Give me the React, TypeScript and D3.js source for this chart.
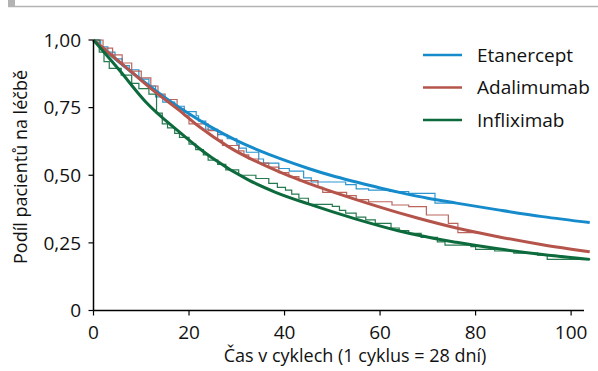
import * as d3 from "d3";

// series
const drugs = ["Etanercept", "Adalimumab", "Infliximab"];
const colors = ["#168bcb", "#b4544b", "#0d6a3c"];

// Kaplan-Meier steps (cycles, proportion on treatment)
const etaKmT = [0, 1.5, 3, 4.5, 6, 7.5, 9.5, 11.6, 13, 14.5, 17, 19, 21.5, 22, 23.5, 26, 28, 30, 30.5, 32, 34.6, 35.6, 38.8, 41, 44, 45.6, 52.8, 55, 57.6, 62, 66, 71.5, 76];
const etaKmS = [1, 0.975, 0.955, 0.93, 0.905, 0.89, 0.855, 0.83, 0.79, 0.77, 0.755, 0.735, 0.72, 0.7, 0.67, 0.65, 0.635, 0.615, 0.6, 0.585, 0.56, 0.545, 0.525, 0.515, 0.49, 0.475, 0.465, 0.45, 0.445, 0.44, 0.433, 0.397, 0.397];

const adaKmT = [0, 2, 4, 6, 8, 10, 12, 13.5, 15, 17.5, 19, 20, 24, 26, 27, 30.4, 31.5, 32.5, 34.5, 36.7, 38.8, 40.9, 43, 47, 48, 53, 55, 57.6, 62.5, 66, 69.7, 74.3, 76.3, 81];
const adaKmS = [1, 0.97, 0.945, 0.915, 0.885, 0.86, 0.83, 0.8, 0.78, 0.745, 0.72, 0.69, 0.665, 0.63, 0.61, 0.59, 0.575, 0.56, 0.545, 0.53, 0.51, 0.495, 0.48, 0.455, 0.437, 0.425, 0.41, 0.402, 0.39, 0.384, 0.353, 0.322, 0.288, 0.288];

const infKmT = [0, 1.2, 2.2, 3.3, 5.8, 8, 9.5, 11.6, 13.2, 14.4, 15.5, 17, 18, 20, 21.4, 23, 24, 26, 27.7, 30.4, 34, 36.7, 38.5, 40.2, 41.5, 43, 45, 50, 51.5, 52.8, 55, 57, 59, 62.3, 64, 66, 68.6, 72, 73.6, 79, 80, 84, 88, 93, 95, 104];
const infKmS = [1, 0.955, 0.92, 0.895, 0.87, 0.84, 0.82, 0.8, 0.73, 0.69, 0.675, 0.655, 0.64, 0.615, 0.595, 0.575, 0.556, 0.54, 0.52, 0.5, 0.488, 0.47, 0.455, 0.445, 0.43, 0.415, 0.392, 0.385, 0.37, 0.36, 0.345, 0.335, 0.322, 0.305, 0.295, 0.285, 0.27, 0.254, 0.242, 0.236, 0.226, 0.22, 0.212, 0.205, 0.189, 0.189];

// fitted curves
const etaFitT = [0, 5, 10, 15, 20, 25, 30, 35, 38.8, 45, 50, 55, 60, 65, 70, 76, 84.7, 94, 103.9];
const etaFitS = [1, 0.924, 0.853, 0.787, 0.727, 0.674, 0.628, 0.589, 0.563, 0.525, 0.498, 0.475, 0.453, 0.433, 0.415, 0.397, 0.372, 0.347, 0.325];
const adaFitT = [0, 7.5, 12.5, 17.9, 22.1, 28.3, 38.8, 45, 55, 63.8, 68, 76, 84.7, 94, 103.9];
const adaFitS = [1, 0.889, 0.814, 0.741, 0.68, 0.605, 0.513, 0.47, 0.41, 0.362, 0.341, 0.305, 0.273, 0.243, 0.217];
const infFitT = [0, 5.4, 10.9, 17.9, 22.1, 24.8, 32.5, 38, 45, 55, 63.8, 68, 76, 84.7, 94, 103.9];
const infFitS = [1, 0.889, 0.772, 0.661, 0.6, 0.565, 0.482, 0.438, 0.394, 0.338, 0.295, 0.278, 0.252, 0.228, 0.207, 0.189];

const xTicks = [0, 20, 40, 60, 80, 100];
const yTicks = [0, 0.25, 0.5, 0.75, 1];
const yTickLabels = ["0", "0,25", "0,50", "0,75", "1,00"];

const W = 598, H = 371;
const FONT = "'Open Sans', sans-serif";

export default function App() {
  const x = d3.scaleLinear().domain([0, 102.7]).range([93.5, 584]);
  const y = d3.scaleLinear().domain([0, 1]).range([310.5, 40]);

  const zip = (t: number[], s: number[]) => t.map((v, i) => [v, s[i]] as [number, number]);
  const km = [zip(etaKmT, etaKmS), zip(adaKmT, adaKmS), zip(infKmT, infKmS)];
  const fits = [zip(etaFitT, etaFitS), zip(adaFitT, adaFitS), zip(infFitT, infFitS)];

  const stepLine = d3.line<[number, number]>().x(d => x(d[0])).y(d => y(d[1])).curve(d3.curveStepAfter);
  const smoothLine = d3.line<[number, number]>().x(d => x(d[0])).y(d => y(d[1])).curve(d3.curveMonotoneX);

  return (
    <svg width={W} height={H} style={{ position: "absolute", left: 0, top: 0, background: "#fff" }}>
      {/* header rule */}
      <rect x={8} y={0} width={7} height={7} fill="#b3b3b3" />
      <line x1={8} x2={598} y1={6.5} y2={6.5} stroke="#b3b3b3" strokeWidth={1.5} />

      {/* KM steps */}
      {km.map((d, i) => (
        <path key={"k" + i} d={stepLine(d) || ""} fill="none" stroke={colors[i]} strokeWidth={1.2} opacity={0.9} />
      ))}
      {/* fitted */}
      {fits.map((d, i) => (
        <path key={"f" + i} d={smoothLine(d) || ""} fill="none" stroke={colors[i]} strokeWidth={3} />
      ))}

      {/* axes */}
      <g fontFamily={FONT} fontSize={18} fill="#111">
        <line x1={x(0)} x2={x(0)} y1={y(1)} y2={y(0)} stroke="#000" strokeWidth={1.5} />
        <line x1={x(0)} x2={584} y1={y(0)} y2={y(0)} stroke="#000" strokeWidth={1.5} />
        {yTicks.map((t, i) => (
          <g key={"y" + t}>
            <line x1={x(0) - 5} x2={x(0)} y1={y(t)} y2={y(t)} stroke="#000" strokeWidth={1.2} />
            <text x={81} y={y(t)} dy="0.35em" textAnchor="end" fontSize={19}>{yTickLabels[i]}</text>
          </g>
        ))}
        {xTicks.map(t => (
          <g key={"x" + t}>
            <line x1={x(t)} x2={x(t)} y1={y(0)} y2={y(0) + 5} stroke="#000" strokeWidth={1.2} />
            <text x={x(t)} y={339} textAnchor="middle" fontSize={19}>{t}</text>
          </g>
        ))}
        <text x={355} y={362} textAnchor="middle">Čas v cyklech (1 cyklus = 28 dní)</text>
        <text transform="translate(27,167) rotate(-90)" textAnchor="middle">Podíl pacientů na léčbě</text>
      </g>

      {/* legend */}
      <g fontFamily={FONT} fontSize={19} fill="#111">
        {drugs.map((name, i) => (
          <g key={name} transform={`translate(423,${55 + i * 32.5})`}>
            <line x1={0} x2={39} y1={0} y2={0} stroke={colors[i]} strokeWidth={2.5} />
            <text x={54} y={0} dy="0.35em">{name}</text>
          </g>
        ))}
      </g>
    </svg>
  );
}
